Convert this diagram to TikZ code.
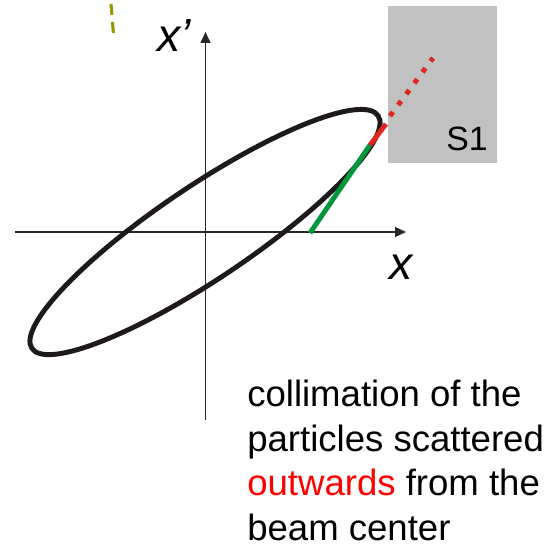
\documentclass[tikz,border=0pt]{standalone}
\usepackage{fontspec}
\setmainfont{Liberation Sans}
\usetikzlibrary{arrows.meta}

\definecolor{orbitblack}{RGB}{30,26,26}
\definecolor{scatgreen}{RGB}{0,150,62}
\definecolor{scatred}{RGB}{222,38,30}
\definecolor{jawgray}{RGB}{193,193,193}
\definecolor{markolive}{RGB}{150,150,0}

\begin{document}
\begin{tikzpicture}[
        x=0.025cm, y=0.025cm,
        axis/.style={-{Triangle[length=7.8pt, width=7pt]}, line width=1.4pt, black!85},
        orbit/.style={line width=3.5pt, orbitblack},
        tangent/.style={line width=3.5pt, scatgreen},
        kick/.style={line width=3.5pt, scatred},
        lost/.style={line width=3.5pt, scatred, dash pattern=on 3.5pt off 6.2pt},
        jaw/.style={fill=jawgray, draw=none},
        axlabel/.style={font=\fontsize{33}{33}\selectfont\itshape, inner sep=0pt},
        label/.style={font=\fontsize{24}{24}\selectfont, inner sep=0pt}
    ]
    \useasboundingbox (0,0) rectangle (559,548);

    % --- COLLIMATOR JAW ---
    \node[jaw, minimum width=109*0.25mm, minimum height=157*0.25mm, anchor=south west, inner sep=0pt] (S1) at (388,385) {};
    \node[label] (S1lbl) at (467,409) {S1};

    % --- AXES ---
    \coordinate (xstart) at (15,316);
    \coordinate (xend) at (406,316);
    \coordinate (ystart) at (205.5,128);
    \coordinate (yend) at (205.5,516);
    \draw[axis] (xstart) -- (xend);
    \draw[axis] (ystart) -- (yend);
    \node[axlabel] (xlbl) at (401,281) {x};
    \node[axlabel] (xplbl) at (174,512) {x\char"27};

    % --- PHASE SPACE ELLIPSE ---
    \coordinate (centre) at (205,316);
    \draw[orbit, rotate around={33.9:(centre)}] (centre) ellipse [x radius=208.6, y radius=46.5];

    % --- SCATTERED PARTICLE ---
    \coordinate (g0) at (310,315);
    \coordinate (g1) at (370,403);
    \coordinate (r1) at (386,424);
    \coordinate (d0) at (390,432);
    \coordinate (d1) at (433,490);
    \draw[tangent] (g0) -- (g1);
    \draw[kick] (g1) -- (r1);
    \draw[lost] (d0) -- (d1);

    % --- MARK TOP LEFT ---
    \coordinate (m0) at (111,544);
    \coordinate (m1) at (113.5,514);
    \draw[markolive, line width=2.2pt, dash pattern=on 7.8pt off 5pt] (m0) -- (m1);

    % --- CAPTION ---
    \node[anchor=base west, align=left, inner sep=0pt, font=\fontsize{26}{31.6}\selectfont] (caption) at (247,8)
    {collimation of the\\particles scattered\\\textcolor{red}{outwards} from the\\beam center};

\end{tikzpicture}
\end{document}
